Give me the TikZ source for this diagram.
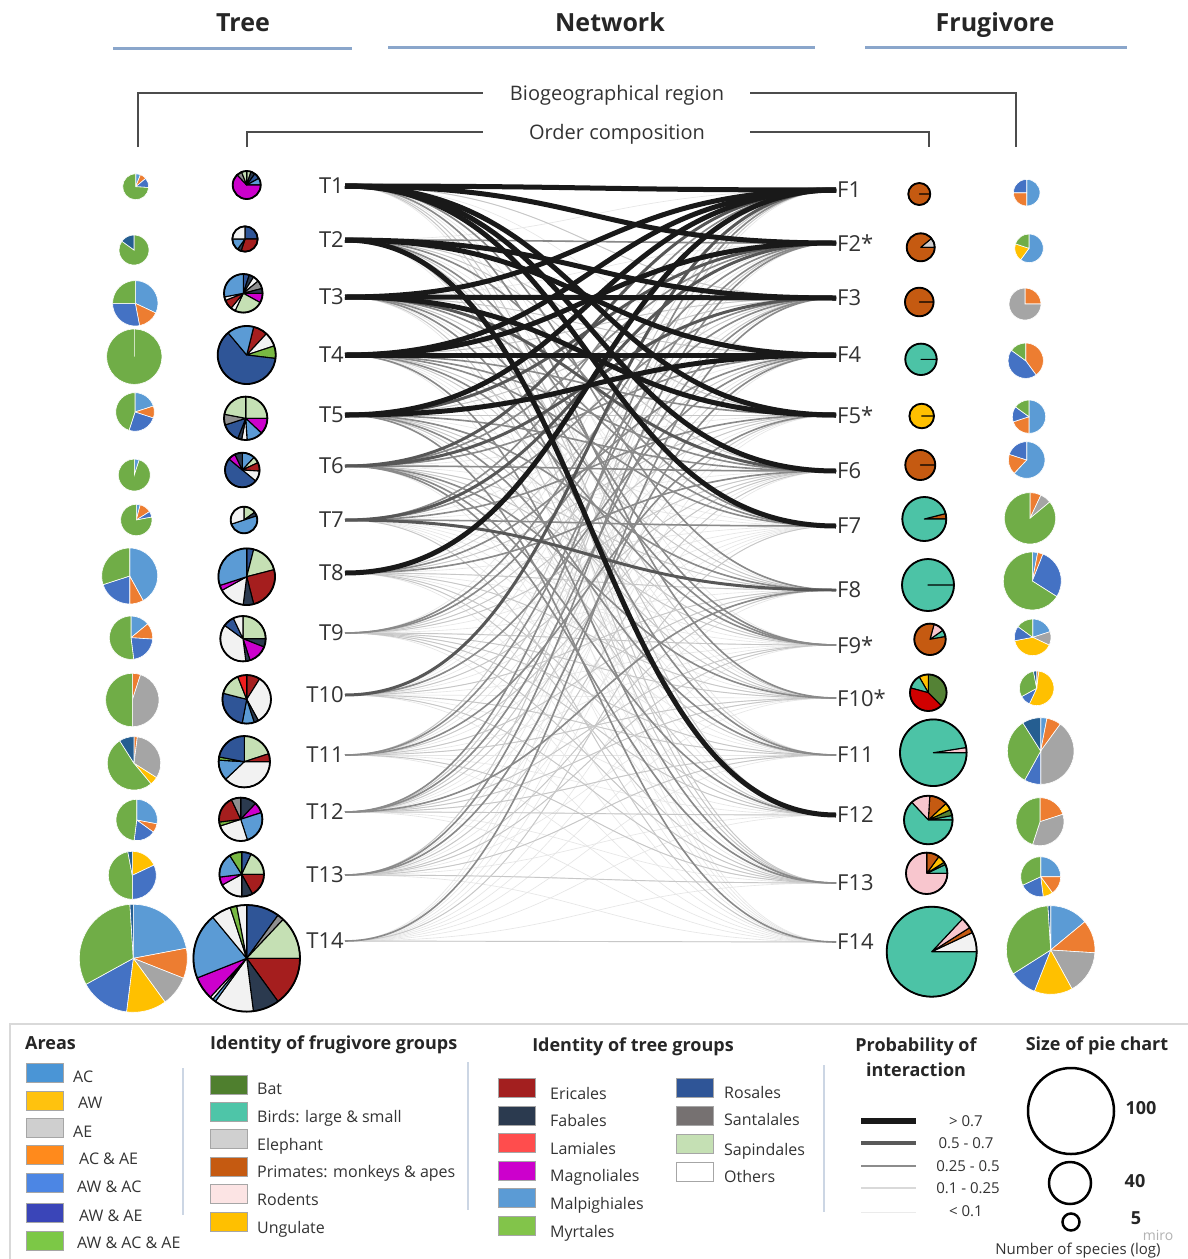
\documentclass[tikz,border=0pt]{standalone}
\usepackage{fontspec}
\setmainfont{Open Sans}
\usetikzlibrary{calc}
% region colours (pies)
\definecolor{cac}{HTML}{5B9BD5}
\definecolor{caw}{HTML}{FFC000}
\definecolor{cae}{HTML}{A5A5A5}
\definecolor{cacae}{HTML}{ED7D31}
\definecolor{cawac}{HTML}{4472C4}
\definecolor{cawae}{HTML}{255E91}
\definecolor{call}{HTML}{70AD47}
% order colours
\definecolor{ericales}{HTML}{A51E1E}
\definecolor{fabales}{HTML}{2B3A4F}
\definecolor{lamiales}{HTML}{F01E1E}
\definecolor{magnol}{HTML}{CC00CC}
\definecolor{malp}{HTML}{5B9BD5}
\definecolor{myrt}{HTML}{78B843}
\definecolor{rosales}{HTML}{2F5597}
\definecolor{santal}{HTML}{8F8F8F}
\definecolor{sapind}{HTML}{C5E0B4}
\definecolor{others}{HTML}{F2F2F2}
% frugivore colours
\definecolor{bat}{HTML}{548235}
\definecolor{birds}{HTML}{4CC3A6}
\definecolor{eleph}{HTML}{D0CECE}
\definecolor{primates}{HTML}{C55A11}
\definecolor{rodents}{HTML}{F8C6CE}
\definecolor{ungul}{HTML}{FFC000}
\definecolor{fred}{HTML}{D00000}
% legend colours
\definecolor{lac}{HTML}{4A95D6}
\definecolor{law}{HTML}{FFC20E}
\definecolor{lae}{HTML}{CFCFCF}
\definecolor{lacae}{HTML}{FF8A1C}
\definecolor{lawac}{HTML}{4C86E4}
\definecolor{lawae}{HTML}{3A45B8}
\definecolor{lall}{HTML}{7CC846}
\definecolor{lbat}{HTML}{4F7F2E}
\definecolor{lbirds}{HTML}{4EC5A8}
\definecolor{leleph}{HTML}{D0D0D0}
\definecolor{lrod}{HTML}{FCE4E4}
\definecolor{lmyrt}{HTML}{82C44A}
\definecolor{lsantal}{HTML}{767171}
\definecolor{lericales}{HTML}{A31F1F}
\definecolor{llam}{HTML}{FF4D4D}
\definecolor{hdrline}{HTML}{8AA6CB}
\definecolor{sepline}{HTML}{CCD6E4}

\tikzset{
  tl/.style={anchor=east, inner sep=1pt, text=black!80, font=\fontsize{22}{26}\selectfont},
  fl/.style={anchor=west, inner sep=1pt, text=black!80, font=\fontsize{22}{26}\selectfont},
  evl/.style={draw=black!10, line width=0.6pt},
  el/.style={draw=black!22, line width=0.9pt},
  em/.style={draw=black!46, line width=1.6pt},
  ed/.style={draw=black!66, line width=3pt},
  eb/.style={draw=black!90, line width=5pt},
  hdr/.style={font=\bfseries\fontsize{25}{28}\selectfont, anchor=base, text=black!85},
  subt/.style={font=\fontsize{20}{22}\selectfont, text=black!80, anchor=base},
  brk/.style={draw=black!70, line width=1.3pt},
  hline/.style={draw=hdrline, line width=3pt},
  regsep/.style={draw=white, line width=0.6pt},
  ordsep/.style={draw=black, line width=1.1pt, line join=round},
  grpsep/.style={draw=black, line width=1.1pt, line join=round},
  rim/.style={draw=black, line width=1.8pt},
  swatch/.style={minimum width=37pt, minimum height=19pt, inner sep=0pt, draw=black!35, line width=0.5pt},
  leg/.style={font=\fontsize{16}{18}\selectfont, text=black!80, anchor=base west, inner sep=0pt},
  legt/.style={font=\bfseries\fontsize{18}{20}\selectfont, anchor=base, inner sep=0pt, text=black!85},
  sepl/.style={draw=sepline, line width=2pt},
  prl/.style={font=\fontsize{15}{17}\selectfont, text=black!80, anchor=base, inner sep=0pt},
}

% pie: x, y, r, start angle, sign (+1 ccw, -1 cw), style, list colour/percent
\newcommand\mypie[7]{%
  \gdef\pieang{#4}%
  \foreach \pc/\pv in {#7}{%
    \pgfmathsetmacro\pieend{\pieang+#5*3.6*\pv}%
    \filldraw[fill=\pc,#6] (#1,#2) -- ++(\pieang:#3pt) arc[start angle=\pieang,end angle=\pieend,radius=#3pt] -- cycle;
    \global\let\pieang\pieend
  }%
}
\newcommand\edg[3]{\draw[#1] (t#2.east) .. controls +(245,0) and +(-245,0) .. (f#3.west);}

\begin{document}
\begin{tikzpicture}[x=1pt,y=-1pt]
\useasboundingbox (0,0) rectangle (1187,1259);
\fill[white] (0,0) rectangle (1187,1259);

% ---------- headers ----------
\node[hdr] (htree) at (243,31) {Tree};
\node[hdr] (hnet) at (610,31) {Network};
\node[hdr] (hfrug) at (995,31) {Frugivore};
\draw[hline] (113,48) -- (352,48);
\draw[hline] (388,47) -- (815,47);
\draw[hline] (865,47) -- (1127,47);

\node[subt] (bio) at (617,100) {Biogeographical region};
\node[subt] (ord) at (617,139) {Order composition};
\draw[brk] (138,147) -- (138,93) -- (483,93);
\draw[brk] (750,93) -- (1016,93) -- (1016,147);
\draw[brk] (247,147) -- (247,132) -- (483,132);
\draw[brk] (750,132) -- (929,132) -- (929,147);

% ---------- network labels ----------
\foreach \n/\y in {1/186,2/240,3/297,4/355,5/415,6/466,7/520,8/573,9/633,10/695,11/755,12/812,13/875,14/941}
  {\node[tl] (t\n) at (345,\y) {T\n};}
\node[fl] (f1) at (836,190) {F1};
\node[fl] (f2) at (836,243) {F2*};
\node[fl] (f3) at (836,298) {F3};
\node[fl] (f4) at (836,355) {F4};
\node[fl] (f5) at (836,415) {F5*};
\node[fl] (f6) at (836,471) {F6};
\node[fl] (f7) at (836,526) {F7};
\node[fl] (f8) at (836,590) {F8};
\node[fl] (f9) at (836,645) {F9*};
\node[fl] (f10) at (836,698) {F10*};
\node[fl] (f11) at (836,755) {F11};
\node[fl] (f12) at (836,815) {F12};
\node[fl] (f13) at (836,883) {F13};
\node[fl] (f14) at (836,942) {F14};

% ---------- network edges ----------
\foreach \i in {1,...,14}{\foreach \j in {1,...,14}{\edg{evl}{\i}{\j}}}
\foreach \i in {1,...,14}{\foreach \j in {1,...,14}{%
  \pgfmathtruncatemacro\kk{mod(\i*\i*3+\j*\j*5+\i*\j,7)}%
  \ifnum\kk<3 \edg{el}{\i}{\j}\fi}}
\foreach \i/\j in {2/2,6/6,7/7,6/2,6/4,7/1,7/3,9/2,9/3,10/4,11/2,11/5,12/1,12/3,13/2,13/4,14/3,3/9,4/9,1/10,5/11,3/11,4/13,6/13,5/14,6/12,1/8,4/7,5/8,6/10,8/6,3/7,4/5,5/6,8/4,12/8,2/9,7/5,4/6,2/7}
  {\edg{em}{\i}{\j}}
\foreach \i/\j in {6/1,6/3,7/8,10/1,7/2,5/2,3/6}
  {\edg{ed}{\i}{\j}}
\foreach \i/\j in {1/1,1/2,1/5,1/6,1/7,2/3,2/4,2/12,3/1,3/3,3/5,4/1,4/2,4/4,5/1,5/4,8/1}
  {\edg{eb}{\i}{\j}}

% ---------- tree region pies ----------
\mypie{135.7}{186.7}{13}{90}{-1}{regsep}{cac/6,cacae/8,cawac/12,call/74}
\mypie{134}{250}{15}{90}{-1}{regsep}{call/85,cawae/15}
\mypie{135.3}{303.3}{22.7}{90}{-1}{regsep}{cac/32,cacae/15,cawac/28,call/25}
\mypie{134.3}{356.7}{27.7}{90}{-1}{regsep}{call/100}
\mypie{135}{412}{19.3}{90}{-1}{regsep}{cac/20,cacae/10,cawac/25,call/45}
\mypie{134.3}{475}{16}{90}{-1}{regsep}{cac/5,call/95}
\mypie{136.3}{520}{15.7}{90}{-1}{regsep}{cac/4,cacae/12,cawac/6,call/78}
\mypie{129.7}{576}{28}{90}{-1}{regsep}{cac/42,cacae/8,cawac/20,call/30}
\mypie{131}{637.7}{21.7}{90}{-1}{regsep}{cac/14,cacae/12,cawac/22,call/52}
\mypie{132.3}{700}{26.7}{90}{-1}{regsep}{cacae/5,cae/45,call/50}
\mypie{134}{763.3}{26.7}{90}{-1}{regsep}{cacae/2,cae/32,caw/5,call/52,cawae/9}
\mypie{136.7}{820}{20.7}{90}{-1}{regsep}{cac/28,cacae/7,cawac/17,call/48}
\mypie{132.3}{875.3}{24}{90}{-1}{regsep}{caw/18,cawac/32,call/47,cawae/3}
\mypie{133.3}{958.3}{54}{90}{-1}{regsep}{cac/22,cacae/9,cae/9,caw/12,cawac/15,call/32,cawae/1}

% ---------- tree order pies ----------
\mypie{246.7}{185}{14}{90}{-1}{ordsep}{sapind/5,fabales/5,rosales/7,malp/8,magnol/63,santal/6,sapind/6}
\draw[rim] (246.7,185) circle[radius=14pt];
\mypie{245}{239}{12.7}{90}{-1}{ordsep}{rosales/25,ericales/30,fabales/5,malp/15,others/25}
\draw[rim] (245,239) circle[radius=12.7pt];
\mypie{243.3}{293.3}{19.3}{90}{-1}{ordsep}{rosales/5,fabales/4,others/5,santal/7,fabales/4,magnol/8,sapind/24,others/4,ericales/8,others/3,malp/28}
\draw[rim] (243.3,293.3) circle[radius=19.3pt];
\mypie{246.7}{355}{29}{76}{-1}{ordsep}{ericales/8,others/8,myrt/7,rosales/62,malp/15}
\draw[rim] (246.7,355) circle[radius=29pt];
\mypie{245.7}{418.3}{21.7}{90}{-1}{ordsep}{sapind/25,magnol/12,malp/12,others/4,fabales/3,rosales/14,santal/8,sapind/22}
\draw[rim] (245.7,418.3) circle[radius=21.7pt];
\mypie{242.3}{470}{17.3}{90}{-1}{ordsep}{malp/12,sapind/6,ericales/8,others/10,rosales/50,magnol/7,fabales/7}
\draw[rim] (242.3,470) circle[radius=17.3pt];
\mypie{244}{520}{13.3}{90}{-1}{ordsep}{sapind/15,fabales/5,malp/50,others/30}
\draw[rim] (244,520) circle[radius=13.3pt];
\mypie{246.7}{576.7}{28.3}{90}{-1}{ordsep}{rosales/4,sapind/17,ericales/25,fabales/6,others/15,magnol/3,malp/30}
\draw[rim] (246.7,576.7) circle[radius=28.3pt];
\mypie{243}{638.7}{22.7}{90}{-1}{ordsep}{sapind/25,fabales/6,magnol/14,fabales/3,others/37,rosales/8,others/7}
\draw[rim] (243,638.7) circle[radius=22.7pt];
\mypie{246.7}{699.3}{24.3}{90}{-1}{ordsep}{ericales/9,others/33,fabales/3,malp/8,rosales/26,sapind/15,lamiales/6}
\draw[rim] (246.7,699.3) circle[radius=24.3pt];
\mypie{244.3}{761.7}{25.7}{90}{-1}{ordsep}{sapind/20,ericales/5,others/38,malp/13,myrt/2,rosales/22}
\draw[rim] (244.3,761.7) circle[radius=25.7pt];
\mypie{240.7}{819.3}{21.7}{90}{-1}{ordsep}{fabales/12,magnol/8,malp/25,others/25,myrt/3,ericales/20,santal/7}
\draw[rim] (240.7,819.3) circle[radius=21.7pt];
\mypie{241.7}{874.3}{22.3}{90}{-1}{ordsep}{rosales/7,sapind/18,ericales/17,fabales/8,others/17,magnol/6,malp/18,myrt/9}
\draw[rim] (241.7,874.3) circle[radius=22.3pt];
\mypie{246.7}{958.3}{53.3}{90}{-1}{ordsep}{rosales/10,santal/2,sapind/13,ericales/15,fabales/8,others/12,malp/1,others/1,magnol/7,malp/20,others/6,myrt/2,others/3}
\draw[rim] (246.7,958.3) circle[radius=53.3pt];

% ---------- frugivore group pies ----------
\mypie{919.3}{194}{11}{0}{1}{grpsep}{primates/100}
\draw[rim] (919.3,194) circle[radius=11pt];
\mypie{920.7}{247.3}{14}{0}{1}{grpsep}{eleph/11,primates/89}
\draw[rim] (920.7,247.3) circle[radius=14pt];
\mypie{919.3}{302}{14.3}{0}{1}{grpsep}{primates/100}
\draw[rim] (919.3,302) circle[radius=14.3pt];
\mypie{921}{359.3}{15.7}{0}{1}{grpsep}{birds/100}
\draw[rim] (921,359.3) circle[radius=15.7pt];
\mypie{921.7}{416}{12.3}{0}{1}{grpsep}{ungul/100}
\draw[rim] (921.7,416) circle[radius=12.3pt];
\mypie{920.3}{465}{15}{0}{1}{grpsep}{primates/100}
\draw[rim] (920.3,465) circle[radius=15pt];
\mypie{924.3}{519}{22}{0}{1}{grpsep}{primates/4,birds/96}
\draw[rim] (924.3,519) circle[radius=22pt];
\mypie{928}{585}{26}{0}{1}{grpsep}{birds/100}
\draw[rim] (928,585) circle[radius=26pt];
\mypie{930}{639.3}{15.7}{10}{1}{grpsep}{birds/7,rodents/11,primates/82}
\draw[rim] (930,639.3) circle[radius=15.7pt];
\mypie{928.3}{692.7}{18.3}{-45}{1}{grpsep}{bat/37.5,ungul/8.3,birds/12.5,fred/41.7}
\draw[rim] (928.3,692.7) circle[radius=18.3pt];
\mypie{933.3}{752.7}{33.3}{0}{1}{grpsep}{rodents/2.5,birds/97.5}
\draw[rim] (933.3,752.7) circle[radius=33.3pt];
\mypie{928.3}{820}{24.3}{0}{1}{grpsep}{birds/3,bat/4,ungul/5,primates/12,rodents/13,birds/63}
\draw[rim] (928.3,820) circle[radius=24.3pt];
\mypie{926.7}{873.3}{20.7}{0}{1}{grpsep}{birds/7,bat/2,ungul/6,primates/10,rodents/75}
\draw[rim] (926.7,873.3) circle[radius=20.7pt];
\mypie{931.7}{951.7}{45}{0}{1}{grpsep}{others/7,primates/2,rodents/4,birds/87}
\draw[rim] (931.7,951.7) circle[radius=45pt];

% ---------- frugivore region pies ----------
\mypie{1026.7}{192.7}{13.3}{90}{-1}{regsep}{cac/50,cacae/25,cawac/25}
\mypie{1029}{248.3}{14.3}{90}{-1}{regsep}{cac/60,caw/20,call/20}
\mypie{1025}{304}{16}{90}{-1}{regsep}{cacae/25,cae/75}
\mypie{1025.7}{360.7}{17.7}{90}{-1}{regsep}{cacae/40,cawac/45,call/15}
\mypie{1029}{416.7}{16.7}{90}{-1}{regsep}{cac/50,cacae/20,cawac/15,call/15}
\mypie{1026.7}{460}{18.3}{90}{-1}{regsep}{cac/62,cacae/18,cawac/20}
\mypie{1030}{518.3}{25.7}{90}{-1}{regsep}{cacae/7,cae/7,call/86}
\mypie{1032.3}{581}{29}{90}{-1}{regsep}{cac/3,cacae/3,cawac/28,call/66}
\mypie{1032.7}{637.3}{18.3}{90}{-1}{regsep}{cac/20,cae/12,caw/40,cawac/13,call/15}
\mypie{1036.7}{688.3}{17.3}{90}{-1}{regsep}{cacae/2,caw/55,cawac/10,call/30,cawae/3}
\mypie{1040.7}{751}{33.3}{90}{-1}{regsep}{cac/3,cacae/7,cae/40,cawac/8,call/33,cawae/9}
\mypie{1040}{821.7}{24}{90}{-1}{regsep}{cacae/20,cae/35,call/45}
\mypie{1040.7}{876.7}{20}{90}{-1}{regsep}{cac/25,cacae/15,caw/8,cawac/20,call/32}
\mypie{1050.7}{950}{44.3}{90}{-1}{regsep}{cac/14,cacae/12,cae/16,caw/14,cawac/10,call/33,cawae/1}

% ---------- legend ----------
\draw[black!15, line width=1.5pt] (10,1024) rectangle (1200,1275);
\draw[sepl] (183,1068) -- (183,1215);
\draw[sepl] (468,1062) -- (468,1210);
\draw[sepl] (824,1065) -- (824,1212);

\node[legt, anchor=base west] (tareas) at (25,1049) {Areas};
\foreach \c/\t/\ys/\yl/\xl [count=\n] in {lac/AC/1072.5/1082/73, law/AW/1100.5/1108/78, lae/AE/1127.5/1137/73, lacae/AC \& AE/1155/1164/79, lawac/AW \& AC/1182.5/1192/77, lawae/AW \& AE/1212.5/1221/79, lall/AW \& AC \& AE/1241/1248/77}{
  \node[swatch, fill=\c] (as\n) at (44.5,\ys) {};
  \node[leg] (al\n) at (\xl,\yl) {\t};
}

\node[legt, anchor=base west] (tfrug) at (210,1049) {Identity of frugivore groups};
\foreach \c/\t/\ys/\yl [count=\n] in {lbat/Bat/1084.5/1094, lbirds/Birds: large \& small/1111.5/1122, leleph/Elephant/1139/1150, primates/Primates: monkeys \& apes/1166.5/1177, lrod/Rodents/1194/1205, ungul/Ungulate/1221.5/1233}{
  \node[swatch, fill=\c] (fs\n) at (229,\ys) {};
  \node[leg] (fg\n) at (257,\yl) {\t};
}

\node[legt] (ttree) at (633,1051) {Identity of tree groups};
\foreach \c/\t/\ys/\yl [count=\n] in {lericales/Ericales/1088/1099, fabales/Fabales/1115.5/1126, llam/Lamiales/1143/1154, magnol/Magnoliales/1170.5/1181, malp/Malpighiales/1197.5/1209, lmyrt/Myrtales/1225.5/1237}{
  \node[swatch, fill=\c] (ts\n) at (516.5,\ys) {};
  \node[leg] (tg\n) at (550,\yl) {\t};
}
\foreach \c/\t/\ys/\yl [count=\n] in {rosales/Rosales/1087.5/1098, lsantal/Santalales/1115.5/1125, sapind/Sapindales/1143.5/1155, white/Others/1172/1182}{
  \node[swatch, fill=\c] (us\n) at (695,\ys) {};
  \node[leg] (ug\n) at (724,\yl) {\t};
}

\node[legt] (tprob1) at (916,1051) {Probability of};
\node[legt] (tprob2) at (916,1076) {interaction};
\coordinate (p1a) at (861,1121); \coordinate (p1b) at (916,1121);
\coordinate (p2a) at (861,1143); \coordinate (p2b) at (916,1143);
\coordinate (p3a) at (861,1166); \coordinate (p3b) at (916,1166);
\coordinate (p4a) at (861,1188); \coordinate (p4b) at (916,1188);
\coordinate (p5a) at (861,1212); \coordinate (p5b) at (916,1212);
\draw[draw=black!90, line width=6pt] (p1a) -- (p1b);
\draw[draw=black!65, line width=4pt] (p2a) -- (p2b);
\draw[draw=black!45, line width=2pt] (p3a) -- (p3b);
\draw[draw=black!15, line width=1.5pt] (p4a) -- (p4b);
\draw[draw=black!8, line width=1pt] (p5a) -- (p5b);
\node[prl] (pl1) at (966,1126) {> 0.7};
\node[prl] (pl2) at (966,1148) {0.5 - 0.7};
\node[prl] (pl3) at (968,1171) {0.25 - 0.5};
\node[prl] (pl4) at (968,1193) {0.1 - 0.25};
\node[prl] (pl5) at (966,1216) {< 0.1};

\node[legt] (tsize) at (1097,1050) {Size of pie chart};
\draw[black, line width=2.5pt] (1071,1111) circle[radius=43pt];
\draw[black, line width=2.5pt] (1070,1183) circle[radius=21pt];
\draw[black, line width=2.5pt] (1071,1222) circle[radius=8.5pt];
\node[legt] (s100) at (1141,1114) {100};
\node[legt] (s40) at (1135,1187) {40};
\node[legt] (s5) at (1136,1224) {5};
\node[prl] (snum) at (1078,1254) {Number of species (log)};
\node[prl, text=black!30, font=\fontsize{14}{16}\selectfont] (miro) at (1158,1240) {miro};
\end{tikzpicture}
\end{document}
